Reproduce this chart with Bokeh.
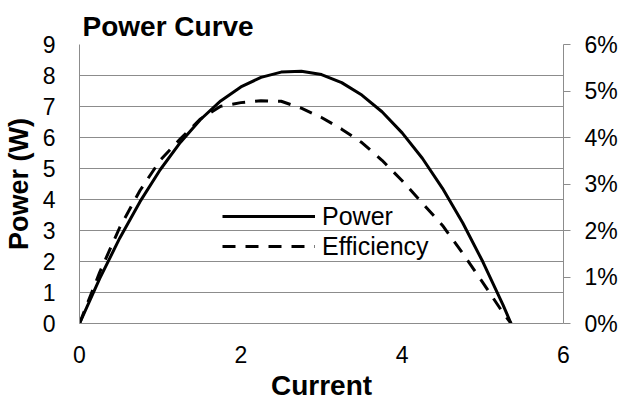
from bokeh.plotting import figure
from bokeh.models import (Range1d, LinearAxis, FixedTicker, PrintfTickFormatter,
                          Legend, LegendItem)
from bokeh.embed import file_html
from bokeh.resources import INLINE

# ---- data ----
current = [0, 0.25, 0.5, 0.75, 1.0, 1.25, 1.5, 1.75, 2.0, 2.25, 2.5, 2.75,
           3.0, 3.25, 3.5, 3.75, 4.0, 4.25, 4.5, 4.75, 5.0, 5.25, 5.35]
power = [0, 1.45, 2.76, 3.93, 4.96, 5.84, 6.58, 7.18, 7.63, 7.94, 8.11, 8.14,
         8.03, 7.77, 7.37, 6.83, 6.15, 5.33, 4.36, 3.25, 1.99, 0.60, 0]
efficiency = [0, 1.10, 2.07, 2.86, 3.51, 3.97, 4.40, 4.67, 4.75, 4.79, 4.78, 4.63,
              4.43, 4.18, 3.89, 3.51, 3.07, 2.59, 2.11, 1.51, 0.88, 0.23, 0]
x_ticks = [0, 2, 4, 6]
power_ticks = [0, 1, 2, 3, 4, 5, 6, 7, 8, 9]
eff_ticks = [0, 1, 2, 3, 4, 5, 6]

FONT = "Liberation Sans"
GRID = "#8c8c8c"

p = figure(width=622, height=405, output_backend="svg", toolbar_location=None,
           x_range=Range1d(0, 6), y_range=Range1d(0, 9),
           min_border_left=79, min_border_right=59,
           min_border_top=44, min_border_bottom=82)
p.extra_y_ranges = {"eff": Range1d(0, 6)}
p.outline_line_color = None
p.background_fill_color = "white"
p.border_fill_color = "white"

# title
p.title.text = "Power Curve"
p.title.text_font = FONT
p.title.text_font_size = "28px"
p.title.text_font_style = "bold"
p.title.text_color = "black"
p.title.align = "left"
p.title.offset = 3
p.title.standoff = 6

# grid
p.xgrid.visible = False
p.ygrid.ticker = FixedTicker(ticks=power_ticks)
p.ygrid.grid_line_color = GRID
p.ygrid.grid_line_width = 1

# x axis
xa = p.xaxis[0]
xa.ticker = FixedTicker(ticks=x_ticks)
xa.axis_line_color = GRID
xa.major_tick_out = 0
xa.major_tick_in = 0
xa.minor_tick_out = 0
xa.minor_tick_in = 0
xa.major_label_standoff = 22
xa.major_label_text_font = FONT
xa.major_label_text_font_size = "23px"
xa.major_label_text_color = "black"
xa.axis_label = "Current"
xa.axis_label_text_font = FONT
xa.axis_label_text_font_size = "28px"
xa.axis_label_text_font_style = "bold"
xa.axis_label_text_color = "black"
xa.axis_label_standoff = 4

# left axis
ya = p.yaxis[0]
ya.ticker = FixedTicker(ticks=power_ticks)
ya.axis_line_color = GRID
ya.major_tick_out = 0
ya.major_tick_in = 0
ya.minor_tick_out = 0
ya.minor_tick_in = 0
ya.major_label_standoff = 24
ya.major_label_text_font = FONT
ya.major_label_text_font_size = "23px"
ya.major_label_text_color = "black"
ya.axis_label = "Power (W)"
ya.axis_label_text_font = FONT
ya.axis_label_text_font_size = "27px"
ya.axis_label_text_font_style = "bold"
ya.axis_label_text_color = "black"
ya.axis_label_standoff = 6

# right axis
ra = LinearAxis(y_range_name="eff", ticker=FixedTicker(ticks=eff_ticks),
                formatter=PrintfTickFormatter(format="%d%%"))
ra.axis_line_color = GRID
ra.major_tick_line_color = GRID
ra.major_tick_out = 7
ra.major_tick_in = 0
ra.minor_tick_out = 0
ra.minor_tick_in = 0
ra.major_label_standoff = 14
ra.major_label_text_font = FONT
ra.major_label_text_font_size = "23px"
ra.major_label_text_color = "black"
p.add_layout(ra, "right")

# lines
r_power = p.line(current, power, line_color="black", line_width=3, line_join="round")
r_eff = p.line(current, efficiency, y_range_name="eff", line_color="black",
               line_width=3, line_dash="13 10", line_join="round")

legend = Legend(items=[LegendItem(label="Power", renderers=[r_power]),
                       LegendItem(label="Efficiency", renderers=[r_eff])],
                location=(143, 62), orientation="vertical")
legend.glyph_width = 93
legend.glyph_height = 30
legend.label_height = 30
legend.label_standoff = 7
legend.spacing = 0
legend.padding = 0
legend.margin = 0
legend.border_line_color = None
legend.background_fill_alpha = 0
legend.label_text_font = FONT
legend.label_text_font_size = "25px"
legend.label_text_color = "black"
p.add_layout(legend, "center")

open("out.html", "w").write(file_html(p, INLINE))
